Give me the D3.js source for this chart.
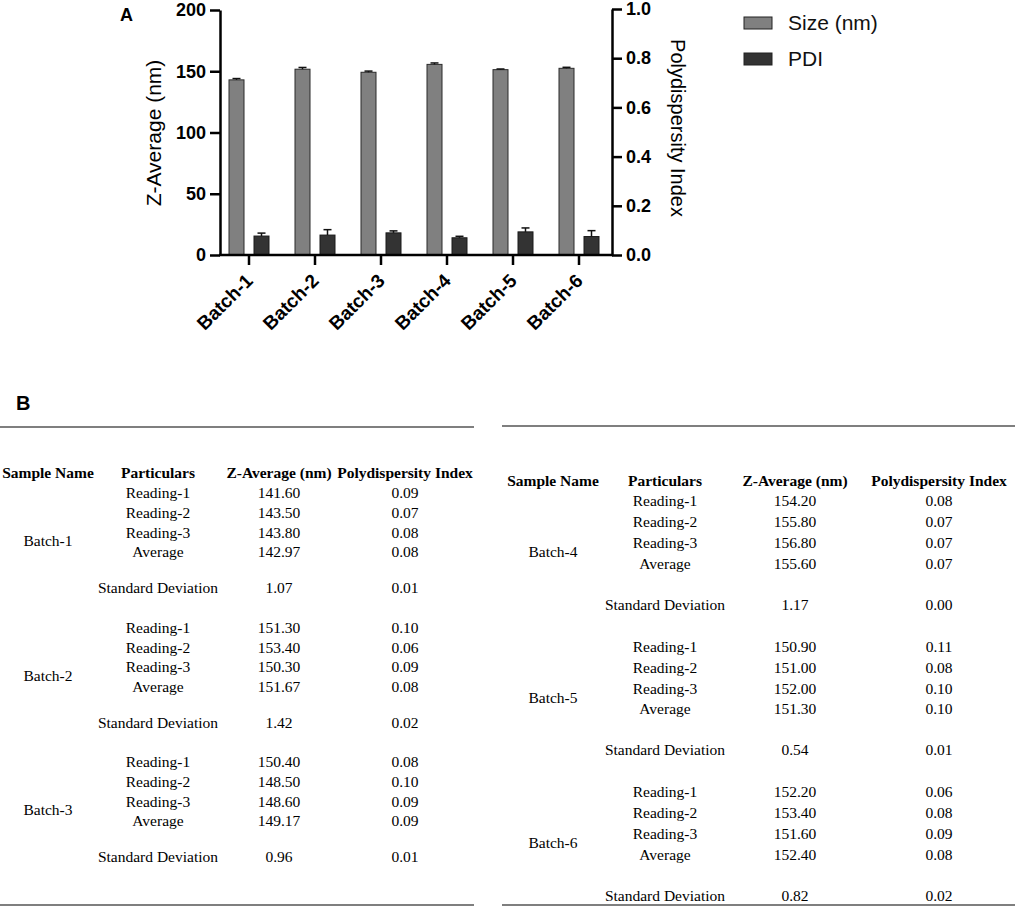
<!DOCTYPE html>
<html>
<head>
<meta charset="utf-8">
<script src="https://cdn.jsdelivr.net/npm/d3@7"></script>
<style>
  body { margin: 0; background: #fff; }
  svg { display: block; }
</style>
</head>
<body>
<svg id="fig" width="1017" height="908"></svg>
<script>
// ---- data ----
var batches = ["Batch-1", "Batch-2", "Batch-3", "Batch-4", "Batch-5", "Batch-6"];
var particulars = ["Reading-1", "Reading-2", "Reading-3", "Average", "Standard Deviation"];

// table values: readings 1-3, average, standard deviation
var zAvg = [
  ["141.60", "143.50", "143.80", "142.97", "1.07"],
  ["151.30", "153.40", "150.30", "151.67", "1.42"],
  ["150.40", "148.50", "148.60", "149.17", "0.96"],
  ["154.20", "155.80", "156.80", "155.60", "1.17"],
  ["150.90", "151.00", "152.00", "151.30", "0.54"],
  ["152.20", "153.40", "151.60", "152.40", "0.82"]
];
var pdiTable = [
  ["0.09", "0.07", "0.08", "0.08", "0.01"],
  ["0.10", "0.06", "0.09", "0.08", "0.02"],
  ["0.08", "0.10", "0.09", "0.09", "0.01"],
  ["0.08", "0.07", "0.07", "0.07", "0.00"],
  ["0.11", "0.08", "0.10", "0.10", "0.01"],
  ["0.06", "0.08", "0.09", "0.08", "0.02"]
];

// bar chart values
var sizeMean = [142.97, 151.67, 149.17, 155.60, 151.30, 152.40];
var sizeSd   = [1.07, 1.42, 0.96, 1.17, 0.54, 0.82];
var pdiMean  = [0.077, 0.081, 0.090, 0.070, 0.094, 0.075];
var pdiSd    = [0.012, 0.022, 0.008, 0.006, 0.016, 0.024];

var sizeTicks = [0, 50, 100, 150, 200];
var pdiTicks  = [0, 0.2, 0.4, 0.6, 0.8, 1.0];
var legendLabels = ["Size (nm)", "PDI"];
var headers = ["Sample Name", "Particulars", "Z-Average (nm)", "Polydispersity Index"];

var sizeColor = "#808080", pdiColor = "#333333";

var svg = d3.select("#fig");
var sans = "'Liberation Sans', Arial, sans-serif";
var serif = "'Liberation Serif', 'Times New Roman', serif";

// ---- panel A ----
var x = d3.scaleBand().domain(batches).range([216, 612]);
var yL = d3.scaleLinear().domain([0, 200]).range([255, 10]);
var yR = d3.scaleLinear().domain([0, 1]).range([255, 9]);

var gA = svg.append("g");

gA.append("text").attr("x", 120).attr("y", 21)
  .style("font", "bold 18px " + sans).text("A");

var bars = gA.append("g").selectAll("g").data(batches).enter().append("g");

// size bars
bars.append("rect")
  .attr("x", function(d) { return x(d) + x.bandwidth() / 2 - 20; })
  .attr("width", 15)
  .attr("y", function(d, i) { return yL(sizeMean[i]); })
  .attr("height", function(d, i) { return yL(0) - yL(sizeMean[i]); })
  .attr("fill", sizeColor).attr("stroke", "#2a2a2a").attr("stroke-width", 1);

// pdi bars
bars.append("rect")
  .attr("x", function(d) { return x(d) + x.bandwidth() / 2 + 5; })
  .attr("width", 15)
  .attr("y", function(d, i) { return yR(pdiMean[i]); })
  .attr("height", function(d, i) { return yR(0) - yR(pdiMean[i]); })
  .attr("fill", pdiColor).attr("stroke", "#1a1a1a").attr("stroke-width", 1);

// error bars (upper only)
function errBar(sel, cx, yTop, yErr) {
  sel.append("line").attr("x1", cx).attr("x2", cx).attr("y1", yTop).attr("y2", yErr)
    .attr("stroke", "#111").attr("stroke-width", 1.5);
  sel.append("line").attr("x1", cx - 4).attr("x2", cx + 4).attr("y1", yErr).attr("y2", yErr)
    .attr("stroke", "#111").attr("stroke-width", 1.5);
}
bars.each(function(d, i) {
  var g = d3.select(this), c = x(d) + x.bandwidth() / 2;
  errBar(g, c - 12.5, yL(sizeMean[i]), yL(sizeMean[i] + sizeSd[i]));
  errBar(g, c + 12.5, yR(pdiMean[i]), yR(pdiMean[i] + pdiSd[i]));
});

// axes
function styleAxis(g) {
  g.select(".domain").attr("stroke", "#000").attr("stroke-width", 2.5);
  g.selectAll(".tick line").attr("stroke", "#000").attr("stroke-width", 2.5);
  g.selectAll(".tick text").attr("fill", "#000").style("font", "bold 18px " + sans);
}

gA.append("g").attr("transform", "translate(220,0)")
  .call(d3.axisLeft(yL).tickValues(sizeTicks).tickSize(10).tickSizeOuter(0).tickPadding(4))
  .call(styleAxis);

gA.append("g").attr("transform", "translate(612,0)")
  .call(d3.axisRight(yR).tickValues(pdiTicks).tickFormat(d3.format(".1f")).tickSize(10).tickSizeOuter(0).tickPadding(4))
  .call(styleAxis);

var xAxis = gA.append("g").attr("transform", "translate(0,255)")
  .call(d3.axisBottom(x).tickSize(10).tickSizeOuter(0))
  .call(styleAxis);
xAxis.select(".domain").remove();
gA.append("line").attr("x1", 219).attr("x2", 613).attr("y1", 255).attr("y2", 255)
  .attr("stroke", "#000").attr("stroke-width", 2.5);
xAxis.selectAll(".tick text")
  .attr("text-anchor", "end")
  .attr("dy", null).attr("y", null)
  .attr("transform", "translate(5,27) rotate(-45)")
  .style("font", "bold 19px " + sans);

// axis titles
gA.append("text")
  .attr("transform", "translate(161,133) rotate(-90)")
  .attr("text-anchor", "middle")
  .style("font", "21px " + sans).text("Z-Average (nm)");
gA.append("text")
  .attr("transform", "translate(671,128) rotate(90)")
  .attr("text-anchor", "middle")
  .style("font", "20px " + sans).text("Polydispersity Index");

// legend
var leg = gA.append("g").selectAll("g").data(legendLabels).enter().append("g")
  .attr("transform", function(d, i) { return "translate(744," + (17 + i * 36) + ")"; });
leg.append("rect").attr("width", 28).attr("height", 12)
  .attr("fill", function(d, i) { return i === 0 ? sizeColor : pdiColor; })
  .attr("stroke", "#222").attr("stroke-width", 1);
leg.append("text").attr("x", 44).attr("y", 6).attr("dy", "0.35em")
  .style("font", "21px " + sans).attr("fill", "#111").text(function(d) { return d; });

// ---- panel B ----
svg.append("text").attr("x", 16).attr("y", 410)
  .style("font", "bold 20px " + sans).text("B");

function drawTable(idx, L) {
  var g = svg.append("g");
  g.append("line").attr("x1", L.x0).attr("x2", L.x1).attr("y1", L.top).attr("y2", L.top)
    .attr("stroke", "#555").attr("stroke-width", 1.6);
  g.append("line").attr("x1", L.x0).attr("x2", L.x1).attr("y1", L.bottom).attr("y2", L.bottom)
    .attr("stroke", "#555").attr("stroke-width", 1.6);

  g.selectAll(".hd").data(headers).enter().append("text")
    .attr("x", function(d, i) { return L.cols[i]; })
    .attr("y", L.head).attr("dy", "0.35em").attr("text-anchor", "middle")
    .style("font", "bold 15.5px " + serif).text(function(d) { return d; });

  idx.forEach(function(b, k) {
    var base = L.base + k * L.batchStep;
    var rowY = function(r) { return r < 4 ? base + r * L.step : base + L.sdOff; };
    g.append("text").attr("x", L.cols[0]).attr("y", base + 2.45 * L.step).attr("dy", "0.35em")
      .attr("text-anchor", "middle").style("font", "15.5px " + serif).text(batches[b]);
    particulars.forEach(function(p, r) {
      var cells = [p, zAvg[b][r], pdiTable[b][r]];
      cells.forEach(function(c, j) {
        g.append("text").attr("x", L.cols[j + 1]).attr("y", rowY(r)).attr("dy", "0.35em")
          .attr("text-anchor", "middle").style("font", "15.5px " + serif).text(c);
      });
    });
  });
}

drawTable([0, 1, 2], {
  x0: 0, x1: 474, top: 427, bottom: 905, head: 473,
  cols: [48, 158, 279, 405], base: 493, step: 19.6, sdOff: 95, batchStep: 134.5
});
drawTable([3, 4, 5], {
  x0: 502, x1: 1015, top: 426, bottom: 905, head: 481,
  cols: [553, 665, 795, 939], base: 501, step: 20.8, sdOff: 103.5, batchStep: 145.5
});
</script>
</body>
</html>
